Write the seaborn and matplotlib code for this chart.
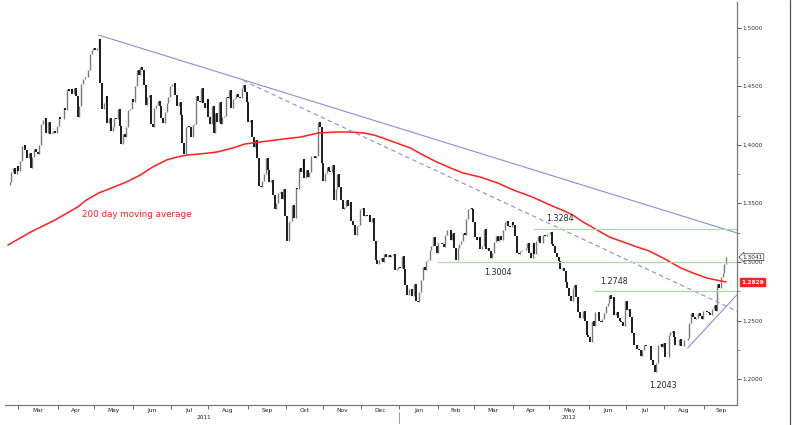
import numpy as np
import pandas as pd
import seaborn as sns
import matplotlib
matplotlib.use("Agg")
import matplotlib.pyplot as plt
import matplotlib.transforms as mtransforms
from matplotlib.lines import Line2D

# daily closes EUR/USD
feb11 = [1.366, 1.368, 1.377, 1.380, 1.375, 1.382]
mar11 = [1.378, 1.386, 1.399, 1.400, 1.396, 1.389, 1.393, 1.380, 1.390, 1.397, 1.394, 1.392,
         1.400, 1.418, 1.421, 1.423, 1.410, 1.420, 1.409, 1.410, 1.412, 1.410, 1.416]
apr11 = [1.424, 1.422, 1.422, 1.432, 1.430, 1.448, 1.446, 1.448, 1.444, 1.449, 1.442, 1.424,
         1.433, 1.452, 1.456, 1.458, 1.458, 1.464, 1.478, 1.481, 1.483]
may11 = [1.481, 1.483, 1.491, 1.453, 1.431, 1.436, 1.442, 1.419, 1.423, 1.412, 1.415, 1.423,
         1.422, 1.431, 1.416, 1.401, 1.409, 1.407, 1.415, 1.430, 1.431, 1.439]
jun11 = [1.437, 1.450, 1.464, 1.460, 1.467, 1.464, 1.451, 1.434, 1.441, 1.443, 1.418, 1.415,
         1.432, 1.434, 1.438, 1.433, 1.423, 1.419, 1.428, 1.436, 1.441, 1.450]
jul11 = [1.452, 1.453, 1.443, 1.433, 1.437, 1.426, 1.402, 1.392, 1.415, 1.416, 1.415, 1.407,
         1.417, 1.418, 1.442, 1.438, 1.437, 1.449, 1.436, 1.432, 1.439]
aug11 = [1.424, 1.418, 1.433, 1.410, 1.427, 1.420, 1.437, 1.418, 1.424, 1.425, 1.441, 1.440,
         1.447, 1.432, 1.439, 1.440, 1.444, 1.441, 1.440, 1.449, 1.451, 1.445, 1.437]
sep11 = [1.420, 1.421, 1.407, 1.398, 1.404, 1.389, 1.365, 1.364, 1.369, 1.375, 1.389, 1.379,
         1.368, 1.370, 1.357, 1.345, 1.350, 1.359, 1.360, 1.354, 1.362, 1.339]
oct11 = [1.318, 1.334, 1.335, 1.349, 1.338, 1.363, 1.362, 1.380, 1.377, 1.388, 1.372, 1.379,
         1.373, 1.377, 1.391, 1.391, 1.389, 1.391, 1.420, 1.415, 1.385]
nov11 = [1.369, 1.376, 1.381, 1.378, 1.377, 1.383, 1.353, 1.362, 1.375, 1.364, 1.353, 1.345,
         1.347, 1.353, 1.348, 1.351, 1.335, 1.332, 1.323, 1.331, 1.332, 1.345]
dec11 = [1.346, 1.339, 1.340, 1.339, 1.340, 1.334, 1.338, 1.318, 1.302, 1.298, 1.302, 1.303,
         1.300, 1.307, 1.304, 1.306, 1.304, 1.306, 1.307, 1.293, 1.294, 1.296]
jan12 = [1.295, 1.305, 1.294, 1.280, 1.272, 1.277, 1.277, 1.271, 1.281, 1.267, 1.266, 1.274,
         1.285, 1.296, 1.293, 1.301, 1.302, 1.310, 1.314, 1.321, 1.314, 1.308]
feb12 = [1.316, 1.316, 1.315, 1.313, 1.323, 1.327, 1.327, 1.319, 1.325, 1.312, 1.302, 1.312,
         1.315, 1.318, 1.325, 1.323, 1.337, 1.345, 1.346, 1.345, 1.334]
mar12 = [1.321, 1.319, 1.321, 1.311, 1.314, 1.328, 1.311, 1.312, 1.309, 1.303, 1.308, 1.317,
         1.322, 1.318, 1.322, 1.319, 1.327, 1.334, 1.335, 1.331, 1.330, 1.334]
apr12 = [1.332, 1.322, 1.308, 1.307, 1.309, 1.310, 1.310, 1.312, 1.316, 1.308, 1.303, 1.316,
         1.307, 1.318, 1.322, 1.316, 1.316, 1.323, 1.322, 1.324, 1.324]
may12 = [1.326, 1.315, 1.314, 1.308, 1.304, 1.301, 1.294, 1.295, 1.292, 1.283, 1.278, 1.271,
         1.267, 1.278, 1.280, 1.270, 1.257, 1.252, 1.252, 1.258, 1.250, 1.238, 1.236]
jun12 = [1.232, 1.250, 1.245, 1.257, 1.257, 1.250, 1.249, 1.251, 1.256, 1.262, 1.265, 1.272,
         1.268, 1.270, 1.255, 1.257, 1.252, 1.250, 1.249, 1.245, 1.267]
jul12 = [1.259, 1.260, 1.253, 1.239, 1.229, 1.229, 1.226, 1.225, 1.220, 1.225, 1.229, 1.228,
         1.228, 1.228, 1.216, 1.212, 1.206, 1.214, 1.229, 1.230, 1.227, 1.231]
aug12 = [1.219, 1.219, 1.238, 1.240, 1.241, 1.236, 1.229, 1.229, 1.234, 1.228, 1.228, 1.233,
         1.233, 1.235, 1.248, 1.256, 1.253, 1.251, 1.252, 1.256, 1.254, 1.251, 1.258]
sep12 = [1.258, 1.257, 1.256, 1.255, 1.260, 1.263, 1.258, 1.281, 1.278, 1.287, 1.291, 1.298, 1.3041]

# 200 day moving average, read at dates along the red line
ma_dates = ["2011-02-21", "2011-03-10", "2011-03-30", "2011-04-08", "2011-04-18", "2011-04-25",
            "2011-05-04", "2011-05-12", "2011-05-26", "2011-06-07", "2011-06-16", "2011-06-28",
            "2011-07-06", "2011-07-14", "2011-07-25", "2011-08-08", "2011-08-19", "2011-08-30",
            "2011-09-16", "2011-09-29", "2011-10-13", "2011-10-27", "2011-11-11", "2011-11-22",
            "2011-12-02", "2011-12-12", "2011-12-19", "2011-12-29", "2012-01-10", "2012-01-19",
            "2012-01-31", "2012-02-10", "2012-02-21", "2012-03-06", "2012-03-20", "2012-04-02",
            "2012-04-17", "2012-05-01", "2012-05-10", "2012-05-18", "2012-05-28", "2012-06-07",
            "2012-06-18", "2012-06-28", "2012-07-10", "2012-07-19", "2012-08-02", "2012-08-14",
            "2012-08-23", "2012-09-04", "2012-09-14", "2012-09-19"]
ma_values = [1.3145, 1.3256, 1.3359, 1.3419, 1.3470, 1.3530, 1.3590, 1.3624, 1.3684, 1.3744,
             1.3812, 1.3872, 1.3897, 1.3915, 1.3923, 1.3940, 1.3974, 1.4009, 1.4034, 1.4051,
             1.4068, 1.4103, 1.4111, 1.4111, 1.4103, 1.4085, 1.4060, 1.4017, 1.3974, 1.3915,
             1.3855, 1.3803, 1.3761, 1.3726, 1.3675, 1.3615, 1.3555, 1.3487, 1.3444, 1.3402,
             1.3342, 1.3274, 1.3214, 1.3171, 1.3128, 1.3094, 1.3017, 1.2949, 1.2906, 1.2863,
             1.2838, 1.2829]

# trend lines: start point, value where they meet the right edge
trend_start_dates = ["2011-05-04", "2011-08-29", "2012-08-20"]
trend_start_prices = [1.494, 1.455, 1.2265]
trend_end_prices = [1.3248, 1.258, 1.272]

# horizontal levels
level_values = [1.3284, 1.3004, 1.2748]
level_start_dates = ["2012-04-18", "2012-02-01", "2012-06-05"]

# price labels
label_texts = ["1.3284", "1.3004", "1.2748", "1.2043"]
label_dates = ["2012-05-09", "2012-03-20", "2012-06-21", "2012-07-31"]
label_values = [1.3284, 1.3004, 1.2748, 1.2043]

last_price = 1.3041
last_ma = 1.2829

closes = np.array([c for m in [feb11, mar11, apr11, may11, jun11, jul11, aug11, sep11, oct11,
                               nov11, dec11, jan12, feb12, mar12, apr12, may12, jun12, jul12,
                               aug12, sep12] for c in m])
dates = pd.bdate_range("2011-02-21", periods=len(closes))
idx = np.arange(len(closes))
opens = np.concatenate([[closes[0]], closes[:-1]])

def pos(d):
    return dates.get_loc(pd.Timestamp(d))

sns.set_style("white")
plt.rcParams['font.family'] = ['DejaVu Sans']

W, H = 802, 425
fig = plt.figure(figsize=(W / 100, H / 100), dpi=100)
ax = fig.add_axes([5 / W, 20 / H, 732 / W, 403 / H])
x_left, x_right = -1.7, 418.3
ax.set_xlim(x_left, x_right)
ax.set_ylim(1.17778, 1.52222)

# bars: grey up, black down
up = closes >= opens
ax.vlines(idx[up], opens[up], closes[up], color="#7a7a7a", lw=1.0)
ax.vlines(idx[~up], opens[~up], closes[~up], color="black", lw=1.25)

# moving average
ma_idx = [pos(d) for d in ma_dates]
sns.lineplot(x=ma_idx, y=ma_values, color="#ff1f1f", lw=1.1, ax=ax)
ax.text(pos("2011-06-03"), 1.341, "200 day moving average", color="#ff1f1f",
        fontsize=6.3, ha="center", va="center")

# trend lines
styles = ["-", "--", "-"]
for d, p0, p1, ls in zip(trend_start_dates, trend_start_prices, trend_end_prices, styles):
    ax.plot([pos(d), x_right], [p0, p1], color="#8c8cd8", lw=0.8, ls=ls,
            dashes=(4, 3) if ls == "--" else (None, None))

for v, d in zip(level_values, level_start_dates):
    ax.plot([pos(d), x_right], [v, v], color="#a8dca8", lw=0.9)

offsets = [4, -5, 4, -5]
for t, d, v, off in zip(label_texts, label_dates, label_values, offsets):
    ax.annotate(t, (pos(d), v), xytext=(0, off), textcoords="offset points",
                ha="center", va="bottom" if off > 0 else "top", fontsize=5.8)

# axes styling
for s in ["left", "top"]:
    ax.spines[s].set_visible(False)
for s in ["right", "bottom"]:
    ax.spines[s].set_color("#7a7a7a")
    ax.spines[s].set_linewidth(0.9)

ax.yaxis.tick_right()
yt = np.arange(1.2, 1.5001, 0.05)
ax.set_yticks(yt)
ax.set_yticklabels([f"{v:.4f}" for v in yt])
ax.set_yticks(np.arange(1.225, 1.5, 0.05), minor=True)
ax.tick_params(axis="y", which="major", length=3, width=0.6, labelsize=4.2, pad=1,
               colors="#333333", right=True)
ax.tick_params(axis="y", which="minor", length=2, width=0.5, right=True, colors="#555555")

# month ticks and labels
month_starts = pd.date_range("2011-03-01", "2012-09-01", freq="MS")
bounds = [dates.searchsorted(m) - 0.5 for m in month_starts]
ax.set_xticks(bounds)
ax.set_xticklabels([])
ax.tick_params(axis="x", length=3, width=0.6, colors="#555555", bottom=True)
trans = mtransforms.blended_transform_factory(ax.transData, ax.transAxes)
for m, b in zip(month_starts, bounds):
    n = len(pd.bdate_range(m, m + pd.offsets.MonthEnd(0)))
    ax.text(b + n / 2, -0.008, m.strftime("%b"), transform=trans, ha="center", va="top",
            fontsize=4.2, color="#222222")
y2012 = dates.searchsorted(pd.Timestamp("2012-01-01"))
ax.text(y2012 / 2, -0.026, "2011", transform=trans, ha="center", va="top", fontsize=4.2)
ax.text((y2012 + x_right) / 2, -0.026, "2012", transform=trans, ha="center", va="top", fontsize=4.2)
ax.plot([y2012 - 0.5] * 2, [-0.018, -0.045], transform=trans, color="#888888", lw=0.6,
        clip_on=False)

# price tags on the axis
ax.annotate(f"{last_price:.4f}", (1.0, last_price), xycoords=("axes fraction", "data"),
            xytext=(4, 0), textcoords="offset points", ha="left", va="center", fontsize=4.2,
            bbox=dict(boxstyle="larrow,pad=0.15", fc="white", ec="#333333", lw=0.5))
ax.annotate(f"{last_ma:.4f}", (1.0, last_ma), xycoords=("axes fraction", "data"),
            xytext=(3, 0), textcoords="offset points", ha="left", va="center", fontsize=4.2,
            color="white", fontweight="bold",
            bbox=dict(boxstyle="square,pad=0.25", fc="#ff2020", ec="#ff2020"))

fig.add_artist(Line2D([790 / W, 790 / W], [0, 1], color="#555555", lw=0.9))

fig.savefig("out.png", dpi=100)
